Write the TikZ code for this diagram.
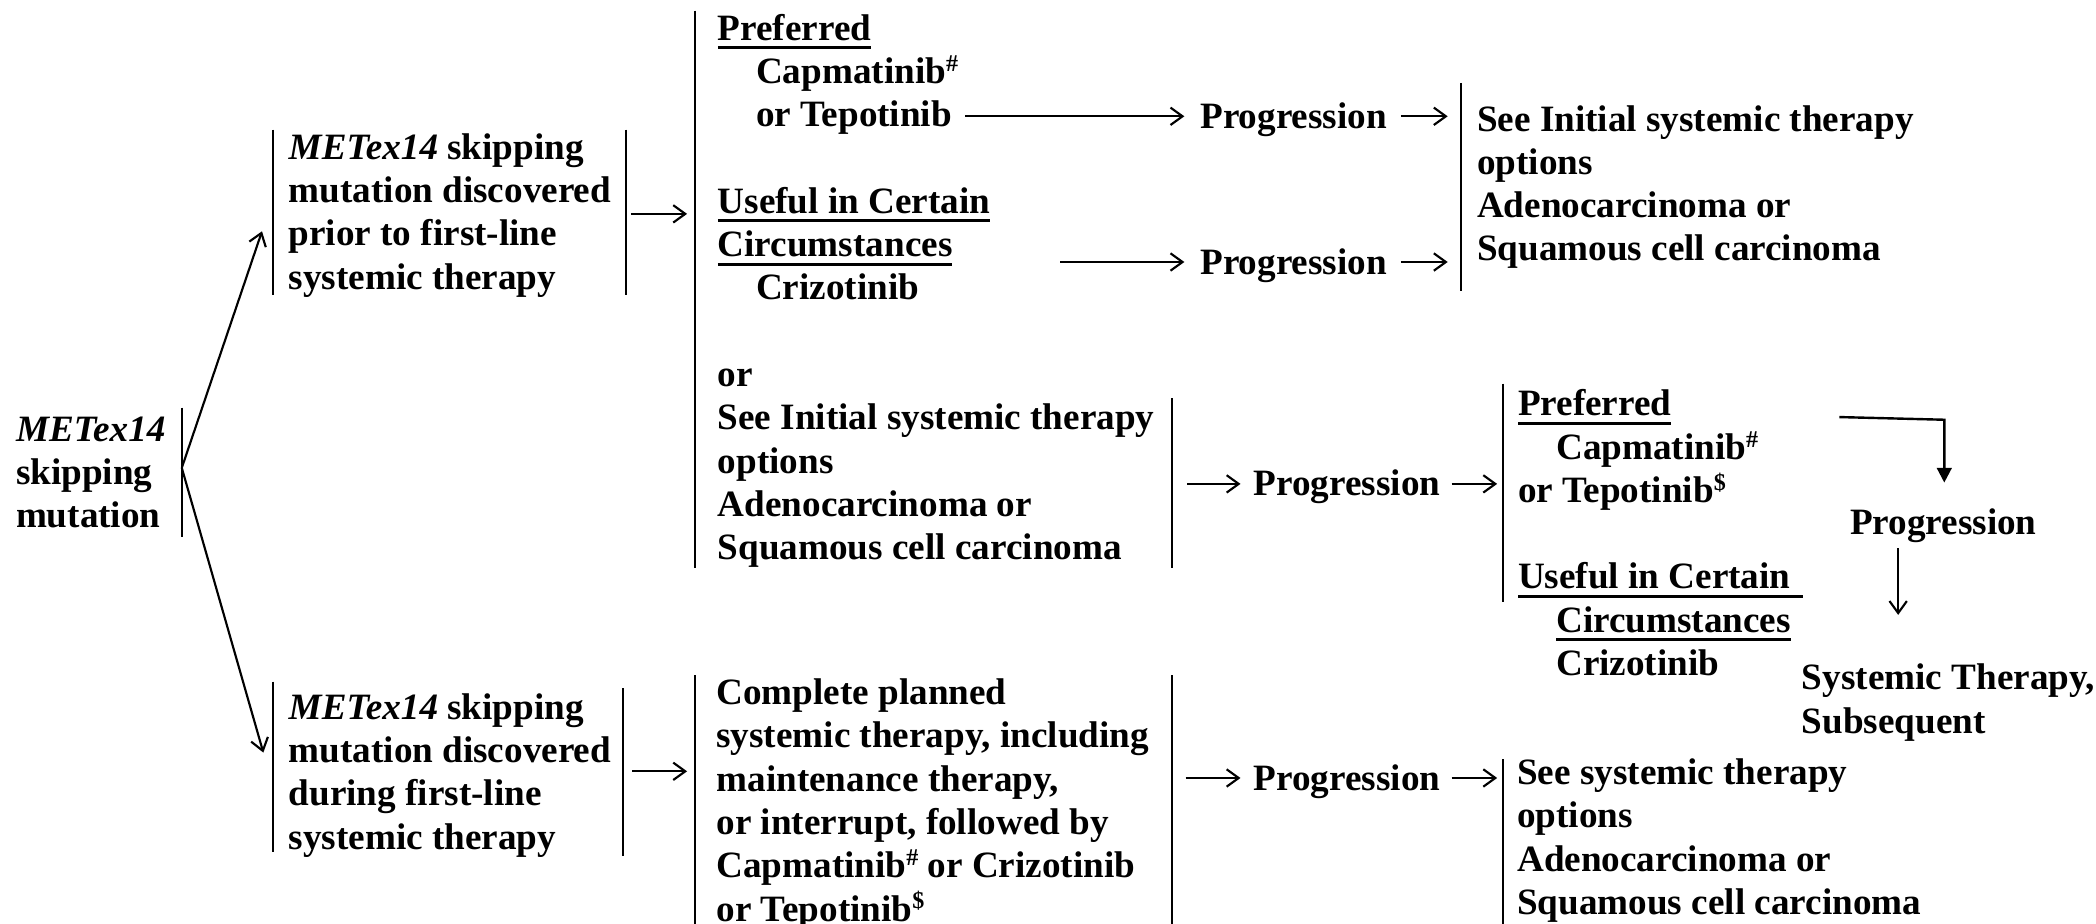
\documentclass[tikz,border=0pt]{standalone}
\usepackage{fontspec}
\setmainfont{Liberation Serif}
\usetikzlibrary{arrows.meta}

% underlined heading, optional extra length of the rule
\newcommand\ulbox[2][0pt]{\setbox0\hbox{#2}\rlap{\rule[-6.8pt]{\dimexpr\wd0+#1\relax}{2.4pt}}\box0}
% small raised footnote mark
\newcommand\supmark[1]{\raisebox{9pt}{\fontsize{18}{18}\selectfont #1}}
% left-aligned block whose baseline is the first line
\newcommand\blk[1]{\begin{tabular}[t]{@{}l@{}}#1\end{tabular}}
\newcommand\ind{\hspace*{28.6pt}}

\tikzset{
  txt/.style={anchor=base west, inner sep=0pt, outer sep=0pt,
              font=\fontsize{27.8}{32.4}\selectfont\bfseries},
  bar/.style={line width=1.5pt},
  arr/.style={line width=1.6pt, -{Straight Barb[length=9pt,width=13pt]}},
  tri/.style={line width=1.8pt, -{Triangle[length=11pt,width=11pt]}},
}

\begin{document}
\begin{tikzpicture}[x=1pt,y=-1pt]
\path[use as bounding box] (0,0) rectangle (1568,691);

% ---- text blocks ----
\node[txt] (root) at (12,330) {\blk{\textit{METex14}\\ skipping\\ mutation}};
\node[txt] (prior) at (216,119) {\blk{\textit{METex14} skipping\\ mutation discovered\\ prior to first-line\\ systemic therapy}};
\node[txt] (during) at (216,538) {\blk{\textit{METex14} skipping\\ mutation discovered\\ during first-line\\ systemic therapy}};

\node[txt] (first) at (537,30) {\blk{\ulbox{Preferred}\\
  \ind Capmatinib\supmark{\#}\\
  \ind or Tepotinib\\
  \mbox{}\\
  \ulbox{Useful in Certain}\\
  \ulbox{Circumstances}\\
  \ind Crizotinib\\
  \mbox{}\\
  or\\
  See Initial systemic therapy\\
  options\\
  Adenocarcinoma or\\
  Squamous cell carcinoma}};

\node[txt] (prog1) at (898,96) {Progression};
\node[txt] (prog2) at (898,205) {Progression};
\node[txt] (seeinit) at (1105,98) {\blk{See Initial systemic therapy\\ options\\ Adenocarcinoma or\\ Squamous cell carcinoma}};

\node[txt] (prog3) at (938,371) {Progression};
\node[txt] (second) at (1135.6,311) {\blk{\ulbox{Preferred}\\
  \ind Capmatinib\supmark{\#}\\
  or Tepotinib\supmark{\$}\\
  \mbox{}\\
  \ulbox[9pt]{Useful in Certain}\\
  \ind\ulbox{Circumstances}\\
  \ind Crizotinib}};
\node[txt] (prog4) at (1384,400) {Progression};
\node[txt] (subs) at (1348,516) {\blk{Systemic Therapy,\\ Subsequent}};

\node[txt] (complete) at (536,527) {\blk{Complete planned\\
  systemic therapy, including\\
  maintenance therapy,\\
  or interrupt, followed by\\
  Capmatinib\supmark{\#} or Crizotinib\\
  or Tepotinib\supmark{\$}}};
\node[txt] (prog5) at (938,591) {Progression};
\node[txt] (seesys) at (1135,587) {\blk{See systemic therapy\\ options\\ Adenocarcinoma or\\ Squamous cell carcinoma}};

% ---- vertical bars ----
\draw[bar] (136,305) -- (136,402);
\draw[bar] (204,97) -- (204,221);
\draw[bar] (468,97) -- (468,221);
\draw[bar] (204,510) -- (204,637);
\draw[bar] (466,515) -- (466,640);
\draw[bar] (520,8) -- (520,425);
\draw[bar] (877,298) -- (877,425);
\draw[bar] (1093,62) -- (1093,218);
\draw[bar] (1124,287) -- (1124,450);
\draw[bar] (520,505) -- (520,691);
\draw[bar] (877,505) -- (877,691);
\draw[bar] (1124,568) -- (1124,691);

% ---- connector end points ----
\coordinate (rootout) at (136,350);
\coordinate (priorin) at (196,173);
\coordinate (duringin) at (197,563);
\coordinate (priorout) at (472,160);
\coordinate (firstin) at (514,160);
\coordinate (duringout) at (473,577);
\coordinate (completein) at (514,577);
\coordinate (tepoout) at (722,87);
\coordinate (prog1in) at (886,87);
\coordinate (crizout) at (793,196);
\coordinate (prog2in) at (886,196);
\coordinate (prog1out) at (1048,87);
\coordinate (see1in) at (1083,87);
\coordinate (prog2out) at (1048,196);
\coordinate (see2in) at (1083,196);
\coordinate (initout) at (888,362);
\coordinate (prog3in) at (928,362);
\coordinate (prog3out) at (1086,362);
\coordinate (secondin) at (1120,362);
\coordinate (secondout) at (1376,312);
\coordinate (elbow) at (1454.5,314);
\coordinate (prog4in) at (1454.5,361);
\coordinate (prog4out) at (1420,410);
\coordinate (subsin) at (1420,460);
\coordinate (completeout) at (887,582);
\coordinate (prog5in) at (928,582);
\coordinate (prog5out) at (1086,582);
\coordinate (seesysin) at (1120,582);

% ---- connectors ----
\draw[arr] (rootout) -- (priorin);
\draw[arr] (rootout) -- (duringin);
\draw[arr] (priorout) -- (firstin);
\draw[arr] (duringout) -- (completein);
\draw[arr] (tepoout) -- (prog1in);
\draw[arr] (crizout) -- (prog2in);
\draw[arr] (prog1out) -- (see1in);
\draw[arr] (prog2out) -- (see2in);
\draw[arr] (initout) -- (prog3in);
\draw[arr] (prog3out) -- (secondin);
\draw[tri] (secondout) -- (elbow) -- (prog4in);
\draw[arr] (prog4out) -- (subsin);
\draw[arr] (completeout) -- (prog5in);
\draw[arr] (prog5out) -- (seesysin);
\end{tikzpicture}
\end{document}
